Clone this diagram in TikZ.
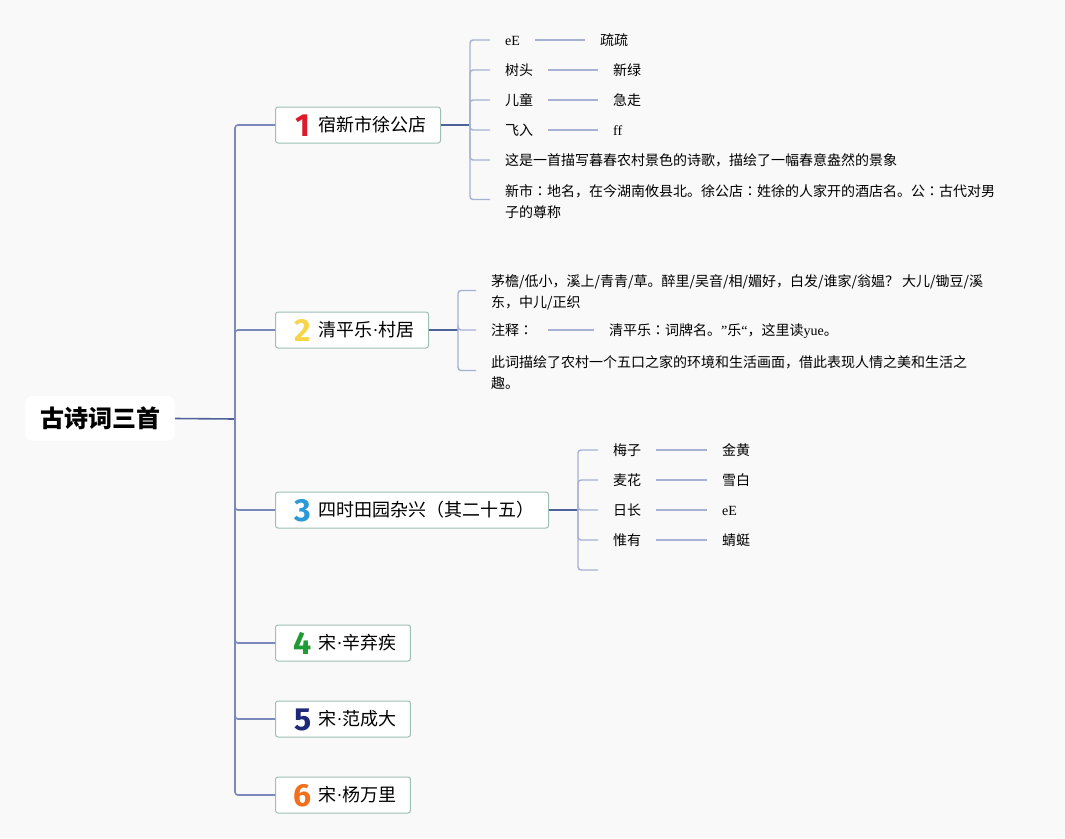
\documentclass[tikz,border=0pt]{standalone}
\usepackage{fontspec}
\setmainfont{Noto Sans CJK SC}
\newfontfamily\lat{Liberation Serif}
\newfontfamily\jpf{Noto Sans CJK JP}
\newfontfamily\numf{Fira Sans}
\newcommand\kidfont{\fontsize{14}{21}\selectfont}
\newcommand\boxfont{\fontsize{18}{20}\selectfont}
\newcommand\numtag[2]{\hspace*{19pt}\makebox[17pt]{\raisebox{-5pt}{\numf\bfseries\fontsize{32}{32}\selectfont\color{#1}#2}}\hspace{7pt}}
\newcommand\mdot{{\lat ·}}
\newcommand\cln{{\jpf ：}}
\definecolor{bg}{HTML}{F9F9FA}
\definecolor{dk}{HTML}{4F6199}
\definecolor{md}{HTML}{7A89B9}
\definecolor{lt}{HTML}{A7B1D3}
\definecolor{boxc}{HTML}{9DBFB5}
\definecolor{n1}{HTML}{DD1A2C}
\definecolor{n2}{HTML}{F5D64A}
\definecolor{n3}{HTML}{2B9AD6}
\definecolor{n4}{HTML}{1F9A34}
\definecolor{n5}{HTML}{1E2A78}
\definecolor{n6}{HTML}{F26F1E}
\begin{document}
\begin{tikzpicture}[x=1pt,y=-1pt,
  trunk/.style={draw=md, line width=1.6pt, rounded corners=3pt},
  hub/.style={draw=dk, line width=1.6pt},
  twig/.style={draw=lt, line width=1.4pt, rounded corners=3pt},
  link/.style={draw=lt, line width=1.4pt},
  kid/.style={anchor=west, inner xsep=15pt, inner ysep=1pt, font=\kidfont, text height=12.5pt, text depth=2pt},
  kidm/.style={anchor=west, inner xsep=15pt, inner ysep=1pt, font=\kidfont, align=left},
  topic/.style={draw=boxc, fill=white, line width=1pt, rounded corners=2.5pt, anchor=west, minimum height=36pt, inner xsep=0pt, inner ysep=0pt, text height=18pt, text depth=5pt, font=\boxfont},
  rootbox/.style={fill=white, rounded corners=8pt, minimum width=150pt, minimum height=45pt, font=\fontsize{24}{24}\selectfont\bfseries}]
\useasboundingbox (0,0) rectangle (1065,838);
\fill[bg] (0,0) rectangle (1065,838);

% root
\node[rootbox] (root) at (100,418.5) {古诗词三首};
\coordinate (tr) at (235,419);

% topics
\node[topic] (b1) at (275,125) {\numtag{n1}{1}宿新市徐公店\hspace*{14pt}};
\node[topic] (b2) at (275,330) {\numtag{n2}{2}清平乐\mdot 村居\hspace*{14pt}};
\node[topic] (b3) at (275,510) {\numtag{n3}{3}四时田园杂兴（其二十五）\hspace*{14pt}};
\node[topic] (b4) at (275,643) {\numtag{n4}{4}宋\mdot 辛弃疾\hspace*{14pt}};
\node[topic] (b5) at (275,719) {\numtag{n5}{5}宋\mdot 范成大\hspace*{14pt}};
\node[topic] (b6) at (275,795) {\numtag{n6}{6}宋\mdot 杨万里\hspace*{14pt}};

\draw[hub] (root.east) -- (tr);
\foreach \b in {b1,b2,b3,b4,b5,b6} \draw[trunk] (tr) |- (\b.west);

% branch 1
\coordinate (j1) at (470,125);
\node[kid] (c11) at (490,40) {\lat eE};
\node[kid] (c12) at (490,70) {树头};
\node[kid] (c13) at (490,100) {儿童};
\node[kid] (c14) at (490,130) {飞入};
\node[kid] (c15) at (490,160) {这是一首描写暮春农村景色的诗歌，描绘了一幅春意盎然的景象};
\node[kidm] (c16) at (490,201.5) {新市\cln 地名，在今湖南攸县北。徐公店\cln 姓徐的人家开的酒店名。公\cln 古代对男\\子的尊称};
\node[kid] (d11) at (585,40) {疏疏};
\node[kid] (d12) at (598,70) {新绿};
\node[kid] (d13) at (598,100) {急走};
\node[kid] (d14) at (598,130) {\lat ff};
\draw[hub] (b1.east) -- (j1);
\foreach \c in {c11,c12,c13,c14,c15} \draw[twig] (j1) |- (\c.west);
\draw[twig] (j1) |- ([yshift=2pt]c16.west);
\draw[link] (c11.east) -- (d11.west);
\draw[link] (c12.east) -- (d12.west);
\draw[link] (c13.east) -- (d13.west);
\draw[link] (c14.east) -- (d14.west);

% branch 2
\coordinate (j2) at (458,330);
\node[kidm] (c21) at (476,292.5) {茅檐/低小，溪上/青青/草。醉里/吴音/相/媚好，白发/谁家/翁媪？ 大儿/锄豆/溪\\东，中儿/正织};
\node[kid] (c22) at (476,330) {注释\cln};
\node[kidm] (c23) at (476,372.5) {此词描绘了农村一个五口之家的环境和生活画面，借此表现人情之美和生活之\\趣。};
\node[kid] (d22) at (594,330) {清平乐\cln 词牌名。{\lat ”}乐{\lat “}，这里读{\lat yue}。};
\draw[hub] (b2.east) -- (j2);
\draw[twig] (j2) |- ([yshift=2pt]c21.west);
\draw[twig] (j2) |- (c22.west);
\draw[twig] (j2) |- ([yshift=2pt]c23.west);
\draw[link] (c22.east) -- (d22.west);

% branch 3
\coordinate (j3) at (578,510);
\node[kid] (c31) at (598,450) {梅子};
\node[kid] (c32) at (598,480) {麦花};
\node[kid] (c33) at (598,510) {日长};
\node[kid] (c34) at (598,540) {惟有};
\coordinate (c35) at (598,570);
\node[kid] (d31) at (707,450) {金黄};
\node[kid] (d32) at (707,480) {雪白};
\node[kid] (d33) at (707,510) {\lat eE};
\node[kid] (d34) at (707,540) {蜻蜓};
\draw[hub] (b3.east) -- (j3);
\foreach \c in {c31,c32,c33,c34} \draw[twig] (j3) |- (\c.west);
\draw[twig] (j3) |- (c35);
\draw[link] (c31.east) -- (d31.west);
\draw[link] (c32.east) -- (d32.west);
\draw[link] (c33.east) -- (d33.west);
\draw[link] (c34.east) -- (d34.west);
\end{tikzpicture}
\end{document}
